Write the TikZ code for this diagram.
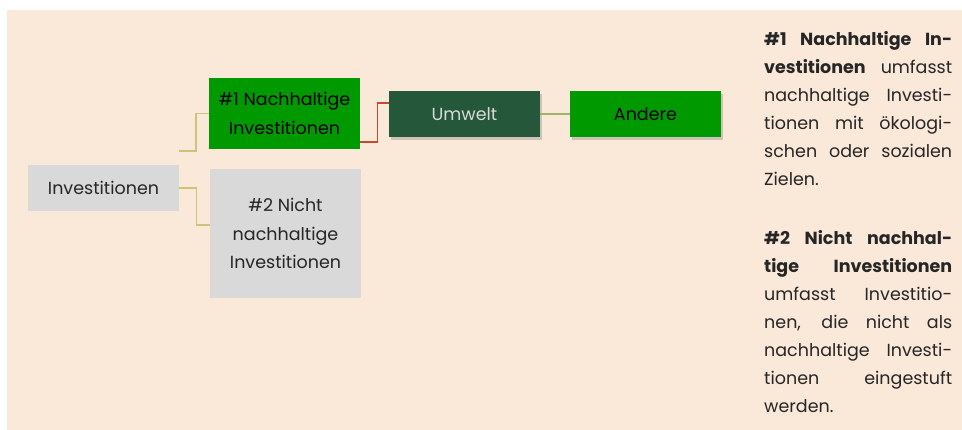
\documentclass[tikz,border=0pt]{standalone}
\usepackage{fontspec}
\setmainfont{Poppins}
\usetikzlibrary{shadows}

\definecolor{peach}{HTML}{FAE8D8}
\definecolor{boxgray}{HTML}{D9D9D9}
\definecolor{leafgreen}{HTML}{009900}
\definecolor{darkgreen}{HTML}{25573B}
\definecolor{olive}{HTML}{CFC27A}
\definecolor{rustred}{HTML}{C64A2C}
\definecolor{sage}{HTML}{9DB36E}
\definecolor{ink}{HTML}{262626}

% one justified line of the note
\newcommand{\jline}[1]{\makebox[188pt][s]{#1}}

\tikzset{
  mapbox/.style={minimum width=151pt, inner sep=0pt, align=center,
    font=\fontsize{17.5}{28.5}\selectfont, text=ink},
  graybox/.style={mapbox, fill=boxgray},
  greenbox/.style={mapbox, fill=leafgreen, text=black},
  shadowed/.style={drop shadow={opacity=0.35, shadow xshift=2pt, shadow yshift=-3pt}},
  oliveline/.style={draw=olive, line width=1.2pt},
}

\begin{document}
\begin{tikzpicture}[x=1pt,y=-1pt]
\useasboundingbox (0,0) rectangle (962,430);
\fill [peach] (7,10) rectangle (962,430);

\node [graybox, minimum height=46pt] (inv) at (103.5,188) {Investitionen};
\node [greenbox, minimum height=71pt] (nach) at (284.5,113.5) {\#1 Nachhaltige\\Investitionen};
\node [graybox, minimum height=129pt] (nicht) at (285.5,233.5) {\#2 Nicht\\nachhaltige\\Investitionen};
\node [mapbox, fill=darkgreen, text=boxgray, minimum height=46pt, shadowed] (umwelt) at (464.5,114) {Umwelt};
\node [greenbox, minimum height=46pt, shadowed] (andere) at (645.5,114) {Andere};

\coordinate (stub) at (179,151);

\draw [oliveline] (stub) -- ++(17,0) |- (nach.west);
\draw [oliveline] (inv.east) -- ++(17,0) |- ([yshift=8.5pt]nicht.west);
\draw [draw=rustred, line width=1.4pt] ([yshift=7pt]nach.south east) -- ++(17,0) |- ([yshift=11pt]umwelt.west);
\draw [draw=sage, line width=1.2pt] (umwelt.east) -- (andere.west);

\node [anchor=north west, align=left, inner sep=0pt,
  font=\fontsize{17.5}{28}\selectfont, text=ink] (note) at (764,31.5)
  {\jline{\textbf{\#1 Nachhaltige In-}}\\
   \jline{\textbf{vestitionen} umfasst}\\
   \jline{nachhaltige Investi-}\\
   \jline{tionen mit ökologi-}\\
   \jline{schen oder sozialen}\\
   Zielen.\\[30.5pt]
   \jline{\textbf{\#2 Nicht nachhal-}}\\
   \jline{\textbf{tige Investitionen}}\\
   \jline{umfasst Investitio-}\\
   \jline{nen, die nicht als}\\
   \jline{nachhaltige Investi-}\\
   \jline{tionen eingestuft}\\
   werden.};
\end{tikzpicture}
\end{document}
